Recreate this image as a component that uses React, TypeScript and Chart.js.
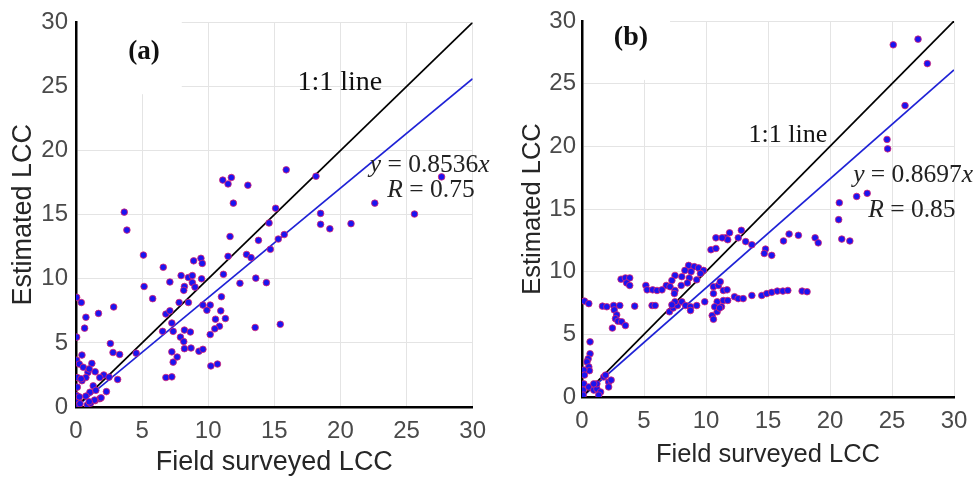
import React, { useEffect, useRef } from "react";
import { Chart, registerables } from "chart.js";

Chart.register(...registerables);

// ---------- DATA ----------
const aFieldLCC = [
  27.65, 15.9, 18.15, 11.1, 11.75, 11.5, 13.0, 11.9, 22.6, 25.6, 18.5, 15.1, 3.65, 3.85, 14.6, 18.5, 19.2, 20.8,
  15.75, 15.3, 11.65, 13.8, 14.7, 12.9, 13.24, 11.5, 5.1, 6.6, 8.9, 9.45, 9.55, 13.6, 11.15, 12.4, 14.4, 7.95,
  7.1, 8.5, 8.8, 9.5, 8.8, 8.2, 8.15, 9.0, 5.15, 5.8, 11.0, 7.8, 8.5, 9.6, 10.15, 9.9, 10.95, 6.8, 7.1, 11.3,
  10.55, 7.25, 15.45, 13.55, 6.55, 7.35, 10.85, 10.5, 8.2, 8.65, 10.15, 7.9, 8.15, 8.2, 8.7, 9.3, 9.6, 7.25,
  7.35, 7.65, 10.2, 10.7, 6.8, 7.25, 4.55, 2.6, 2.8, 3.3, 2.85, 1.7, 0.75, 0.4, 0.05, 0.65, 0.05, 0.45, 0.05,
  0.25, 1.2, 0.55, 1.45, 0.9, 2.1, 1.8, 0.1, 0.75, 1.3, 2.3, 3.15, 1.05, 0.75, 1.8, 1.45, 0.85, 0.2, 0.05, 0.1,
  0.45, 0.1, 0.3, 1.1, 1.0, 1.5, 2.5, 0.38, 1.9, 0.25, 1.4, 1.0,
];
const aEstimatedLCC = [
  17.95, 18.5, 18.0, 17.7, 17.9, 17.4, 17.3, 15.9, 15.9, 15.05, 15.1, 15.5, 15.2, 13.8, 14.35, 14.25, 13.9, 14.3,
  13.45, 13.1, 13.3, 13.0, 12.3, 11.9, 11.65, 11.75, 11.85, 10.9, 11.4, 11.6, 11.2, 10.05, 10.35, 9.65, 9.7, 10.25,
  9.75, 10.1, 9.7, 10.0, 10.25, 9.4, 9.1, 9.35, 9.4, 8.45, 8.6, 8.15, 8.15, 7.95, 7.95, 7.55, 7.5, 7.25, 7.5, 6.9,
  6.85, 6.55, 6.45, 6.2, 5.9, 5.9, 6.3, 6.1, 6.0, 5.85, 5.65, 5.45, 5.1, 4.55, 4.6, 4.35, 4.5, 4.3,
  3.5, 3.9, 3.2, 3.35, 2.3, 2.35, 4.2, 4.95, 4.25, 4.1, 7.8, 7.3, 7.0, 8.15, 8.55, 6.15, 5.45, 4.05, 3.65,
  3.35, 3.4, 3.1, 2.75, 2.7, 2.5, 2.3, 2.3, 2.3, 1.65, 1.2, 2.15, 1.15, 0.85, 0.65, 0.5, 0.15, 0.5, 0.9, 1.55,
  2.05, 0.1, 0.25, 0.3, 2.97, 1.3, 2.33, 2.2, 0.72, 0.79, 0.54, 0.41,
];

const bFieldLCC = [
  25.1, 27.1, 27.85, 26.05, 24.6, 24.65, 23.0, 22.15, 20.75, 20.7, 20.95, 21.6, 18.8, 19.05, 17.45, 16.7, 16.25,
  14.8, 14.7, 15.3, 13.2, 13.7, 12.85, 11.9, 11.55, 11.75, 12.6, 10.8, 11.3, 10.4, 10.8, 8.6, 9.05, 9.4, 9.8,
  8.3, 8.8, 9.55, 7.5, 8.05, 8.65, 9.25, 7.25, 8.5, 8.0, 6.8, 7.1, 7.5, 7.45, 5.15, 5.25, 5.7, 6.05, 6.45,
  3.15, 3.5, 3.85, 3.6, 3.85, 0.2, 0.55, 1.65, 2.0, 2.55, 3.05, 4.25, 5.65, 5.9, 2.6, 2.8, 2.7, 2.9, 3.2, 3.5,
  2.45, 7.05, 7.35, 7.7, 8.05, 7.5, 7.25, 8.35, 8.75, 8.75, 9.25, 9.9, 10.5, 10.6, 10.9, 11.25, 10.9, 11.4,
  11.75, 12.3, 12.6, 13.0, 13.7, 14.5, 14.9, 15.3, 15.75, 16.2, 16.6, 17.75, 18.15, 10.6, 11.0, 11.15, 10.6,
  11.4, 11.7, 10.7, 11.1, 0.65, 0.65, 0.5, 0.4, 0.55, 0.6, 0.15, 0.2, 0.15, 0.1, 0.1, 0.55, 0.95, 1.2, 1.5,
  1.35, 1.75, 1.9, 2.15, 2.35, 2.15, 1.2, 0.95,
];
const bEstimatedLCC = [
  28.1, 28.55, 26.6, 23.25, 20.55, 19.8, 16.25, 16.0, 15.5, 14.15, 12.6, 12.45, 12.7, 12.3, 12.9, 13.0, 12.45,
  11.8, 11.45, 11.3, 12.4, 12.15, 13.3, 13.1, 12.7, 12.55, 12.7, 12.7, 12.7, 11.75, 11.85, 10.5, 10.4, 10.3, 10.1,
  10.1, 10.0, 9.85, 9.7, 9.6, 9.5, 9.35, 9.3, 9.1, 8.9, 8.9, 8.8, 8.5, 8.25, 8.9, 8.55, 8.55, 8.5, 8.55,
  9.4, 9.5, 9.5, 9.1, 8.9, 7.65, 7.45, 7.25, 7.2, 7.3, 7.3, 7.25, 7.3, 7.3, 6.95, 6.55, 6.25, 6.05, 6.0, 5.7,
  5.5, 6.8, 7.1, 7.3, 7.6, 7.6, 7.35, 7.3, 7.2, 6.9, 7.3, 7.6, 6.5, 6.2, 6.8, 7.2, 7.6, 7.7,
  7.7, 8.0, 7.85, 7.85, 8.1, 8.1, 8.25, 8.35, 8.45, 8.45, 8.5, 8.45, 8.4, 8.8, 8.9, 9.2, 8.25,
  8.5, 8.55, 7.2, 7.1, 4.4, 3.45, 3.05, 2.8, 2.4, 2.1, 2.15, 1.75, 1.05, 0.55, 0.15, 0.8, 0.55, 0.65, 0.4,
  0.15, 1.6, 1.75, 1.2, 1.35, 0.8, 1.05, 1.05,
];

const fitSlopes = [0.8536, 0.8697];
const corrR = ["0.75", "0.85"];
const panelTags = ["(a)", "(b)"];
const axisMin = 0;
const axisMax = 30;
const tickStep = 5;

// ---------- PANEL LAYOUT ----------
type PanelCfg = {
  left: number;
  width: number;
  yAxisWidth: number;
  xAxisHeight: number;
  padTop: number;
  padRight: number;
  titleSize: number;
  yTitlePad: number;
  xTitlePad: number;
  yTickPad: number;
  tagSize: number;
  lineLabelSize: number;
  eqSize: number;
  tagPos: [number, number];
  linePos: [number, number];
  eqPos: [number, number];
  rPos: [number, number];
  box: [number, number, number, number];
};

const panels: PanelCfg[] = [
  {
    left: 0, width: 496, yAxisWidth: 76, xAxisHeight: 72, padTop: 17, padRight: 23,
    titleSize: 27, yTitlePad: 7, xTitlePad: 0, yTickPad: 8,
    tagSize: 27, lineLabelSize: 28, eqSize: 25.5,
    tagPos: [5.14, 27.7], linePos: [19.95, 25.3], eqPos: [26.75, 18.85], rPos: [26.85, 16.9],
    box: [0, 8.0, 24.4, 30],
  },
  {
    left: 490, width: 489, yAxisWidth: 92, xAxisHeight: 82, padTop: 21, padRight: 25,
    titleSize: 25.5, yTitlePad: 28, xTitlePad: 9, yTickPad: 6,
    tagSize: 28, lineLabelSize: 26, eqSize: 25.5,
    tagPos: [3.95, 28.65], linePos: [16.6, 20.9], eqPos: [26.7, 17.7], rPos: [26.6, 14.9],
    box: [0, 7.1, 25.3, 30],
  },
];

const SERIF = '"Liberation Serif", "Times New Roman", serif';
const SANS = '"Liberation Sans", Arial, Helvetica, sans-serif';

type Seg = { t: string; italic?: boolean; bold?: boolean };

function drawRich(ctx: CanvasRenderingContext2D, segs: Seg[], cx: number, cy: number, size: number) {
  const fontFor = (s: Seg) => `${s.italic ? "italic " : ""}${s.bold ? "bold " : ""}${size}px ${SERIF}`;
  let total = 0;
  const widths = segs.map((s) => {
    ctx.font = fontFor(s);
    const w = ctx.measureText(s.t).width;
    total += w;
    return w;
  });
  let x = cx - total / 2;
  ctx.textAlign = "left";
  ctx.textBaseline = "middle";
  segs.forEach((s, i) => {
    ctx.font = fontFor(s);
    ctx.fillText(s.t, x, cy);
    x += widths[i];
  });
}

function Panel({ idx, xs, ys }: { idx: number; xs: number[]; ys: number[] }) {
  const ref = useRef<HTMLCanvasElement | null>(null);
  const cfg = panels[idx];

  useEffect(() => {
    if (!ref.current) return;
    const slope = fitSlopes[idx];
    const points = xs.map((x, i) => ({ x, y: ys[i] }));

    const annot = {
      id: "annot" + idx,
      beforeDatasetsDraw(chart: any) {
        const { ctx, scales } = chart;
        const xs_ = scales.x;
        const ys_ = scales.y;
        const [x0, x1, y0, y1] = cfg.box;
        const px0 = xs_.getPixelForValue(x0) + 2;
        const px1 = xs_.getPixelForValue(x1);
        const py0 = ys_.getPixelForValue(y1) - 1;
        const py1 = ys_.getPixelForValue(y0);
        ctx.save();
        ctx.fillStyle = "#ffffff";
        ctx.fillRect(px0, py0, px1 - px0, py1 - py0);
        ctx.restore();
      },
      afterDatasetsDraw(chart: any) {
        const { ctx, scales } = chart;
        const sx = (v: number) => scales.x.getPixelForValue(v);
        const sy = (v: number) => scales.y.getPixelForValue(v);
        ctx.save();
        ctx.fillStyle = "#111111";
        drawRich(ctx, [{ t: panelTags[idx], bold: true }], sx(cfg.tagPos[0]), sy(cfg.tagPos[1]), cfg.tagSize);
        drawRich(ctx, [{ t: "1:1 line" }], sx(cfg.linePos[0]), sy(cfg.linePos[1]), cfg.lineLabelSize);
        ctx.fillStyle = "#222222";
        drawRich(
          ctx,
          [{ t: "y", italic: true }, { t: " = " + slope.toFixed(4) }, { t: "x", italic: true }],
          sx(cfg.eqPos[0]), sy(cfg.eqPos[1]), cfg.eqSize
        );
        drawRich(
          ctx,
          [{ t: "R", italic: true }, { t: " = " + corrR[idx] }],
          sx(cfg.rPos[0]), sy(cfg.rPos[1]), cfg.eqSize
        );
        ctx.restore();
      },
    };

    const axisCommon = (title: string, isY: boolean) => ({
      type: "linear" as const,
      min: axisMin,
      max: axisMax,
      grid: { color: "#e4e4e4", lineWidth: 1, drawTicks: false },
      border: { display: true, color: "#000000", width: 2.5 },
      ticks: {
        stepSize: tickStep,
        padding: isY ? cfg.yTickPad : 10,
        color: "#4a4a4a",
        font: { family: SANS, size: 24 },
        maxRotation: 0,
        autoSkip: false,
      },
      title: {
        display: true,
        text: title,
        color: "#262626",
        font: { family: SANS, size: cfg.titleSize },
        padding: isY ? { top: cfg.yTitlePad, bottom: 0 } : { top: 0, bottom: cfg.xTitlePad },
      },
      afterFit: (scale: any) => {
        if (isY) scale.width = cfg.yAxisWidth;
        else scale.height = cfg.xAxisHeight;
      },
    });

    const chart = new Chart(ref.current, {
      type: "scatter",
      data: {
        datasets: [
          {
            label: "data",
            data: points,
            pointRadius: 3.3,
            pointHoverRadius: 3.3,
            backgroundColor: "#1a14f0",
            borderColor: "#e0246e",
            borderWidth: 0.8,
            showLine: false,
            order: 0,
          },
          {
            label: "1:1",
            data: [
              { x: axisMin, y: axisMin },
              { x: axisMax, y: axisMax },
            ],
            showLine: true,
            borderColor: "#000000",
            borderWidth: 1.7,
            pointRadius: 0,
            order: 1,
          },
          {
            label: "fit",
            data: [
              { x: axisMin, y: axisMin * slope },
              { x: axisMax, y: axisMax * slope },
            ],
            showLine: true,
            borderColor: "#1f22d6",
            borderWidth: 1.7,
            pointRadius: 0,
            order: 1,
          },
        ],
      },
      options: {
        responsive: false,
        animation: false,
        devicePixelRatio: 1,
        layout: { padding: { left: 0, top: cfg.padTop, right: cfg.padRight, bottom: 0 } },
        plugins: { legend: { display: false }, tooltip: { enabled: false } },
        events: [],
        scales: {
          x: axisCommon("Field surveyed LCC", false) as any,
          y: axisCommon("Estimated LCC", true) as any,
        },
      },
      plugins: [annot],
    });
    return () => chart.destroy();
  }, [idx, xs, ys]);

  return (
    <canvas
      ref={ref}
      width={cfg.width}
      height={479}
      style={{ position: "absolute", left: cfg.left, top: 0, width: cfg.width, height: 479 }}
    />
  );
}

export default function App() {
  return (
    <div style={{ position: "absolute", left: 0, top: 0, width: 979, height: 479, background: "#ffffff", overflow: "hidden" }}>
      <Panel idx={0} xs={aFieldLCC} ys={aEstimatedLCC} />
      <Panel idx={1} xs={bFieldLCC} ys={bEstimatedLCC} />
    </div>
  );
}
